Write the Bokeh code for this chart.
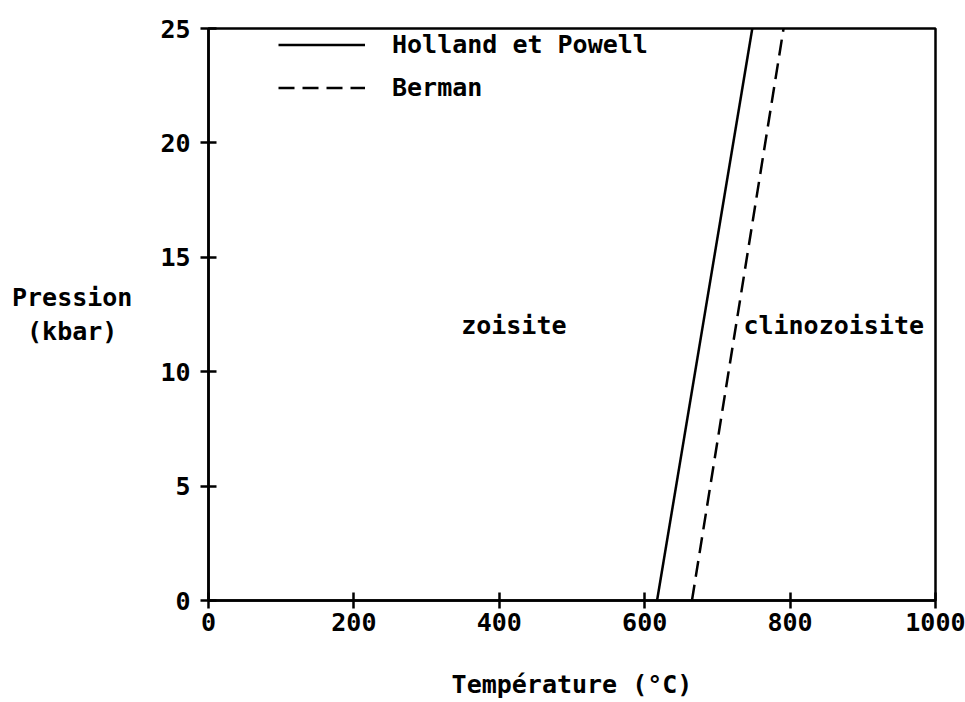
from bokeh.plotting import figure
from bokeh.models import Range1d, FixedTicker, Label, Legend, LegendItem
from bokeh.embed import file_html
from bokeh.resources import INLINE

# Data
pressure = [0, 25]                      # kbar
temp_holland_powell = [617, 748]        # °C
temp_berman = [665, 791]                # °C
x_ticks = [0, 200, 400, 600, 800, 1000]
y_ticks = [0, 5, 10, 15, 20, 25]
region_names = ["zoisite", "clinozoisite"]
region_T = [420, 860]
region_P = [12.0, 12.0]

FONT = "DejaVu Sans Mono"
FS = "25px"
STYLE = "bold"

p = figure(width=965, height=702, output_backend="svg", toolbar_location=None,
           x_range=Range1d(0, 1000), y_range=Range1d(0, 25),
           min_border_left=208, min_border_right=30, min_border_top=28, min_border_bottom=102)
p.xgrid.visible = False
p.ygrid.visible = False
p.outline_line_color = "black"
p.outline_line_width = 2.5
p.background_fill_color = "white"
p.border_fill_color = "white"

for ax, ticks in ((p.xaxis[0], x_ticks), (p.yaxis[0], y_ticks)):
    ax.ticker = FixedTicker(ticks=ticks)
    ax.minor_tick_line_color = None
    ax.major_tick_in = 8
    ax.major_tick_out = 8
    ax.major_tick_line_width = 2.5
    ax.axis_line_width = 2.5
    ax.major_label_text_font = FONT
    ax.major_label_text_font_size = FS
    ax.major_label_text_font_style = STYLE
    ax.major_label_text_color = "black"
    ax.axis_label_text_font = FONT
    ax.axis_label_text_font_size = FS
    ax.axis_label_text_font_style = STYLE
    ax.axis_label_text_color = "black"
p.xaxis.major_label_standoff = 4
p.yaxis.major_label_standoff = 10

p.xaxis.axis_label = "Température (°C)"
p.xaxis.axis_label_standoff = 36
p.yaxis.axis_label = "Pression\n(kbar)\u00a0"
p.yaxis.axis_label_orientation = "horizontal"
p.yaxis.axis_label_standoff = 25
p.yaxis.axis_label_text_align = "center"

r_hp = p.line(temp_holland_powell, pressure, line_color="black", line_width=2.5)
r_b = p.line(temp_berman, pressure, line_color="black", line_width=2.5, line_dash="16 8")

legend = Legend(items=[LegendItem(label="Holland et Powell", renderers=[r_hp]),
                       LegendItem(label="Berman", renderers=[r_b])],
                location=(70, 498), orientation="vertical",
                glyph_width=87, glyph_height=25, label_height=25, label_standoff=27,
                spacing=14, padding=0, margin=0,
                border_line_alpha=0, background_fill_alpha=0,
                label_text_font=FONT, label_text_font_size=FS, label_text_font_style=STYLE,
                label_text_color="black")
p.add_layout(legend)

for name, t, pr in zip(region_names, region_T, region_P):
    p.add_layout(Label(x=t, y=pr, text=name, text_align="center", text_baseline="middle",
                       text_font=FONT, text_font_size=FS, text_font_style=STYLE, text_color="black"))

open("out.html", "w").write(file_html(p, INLINE))
